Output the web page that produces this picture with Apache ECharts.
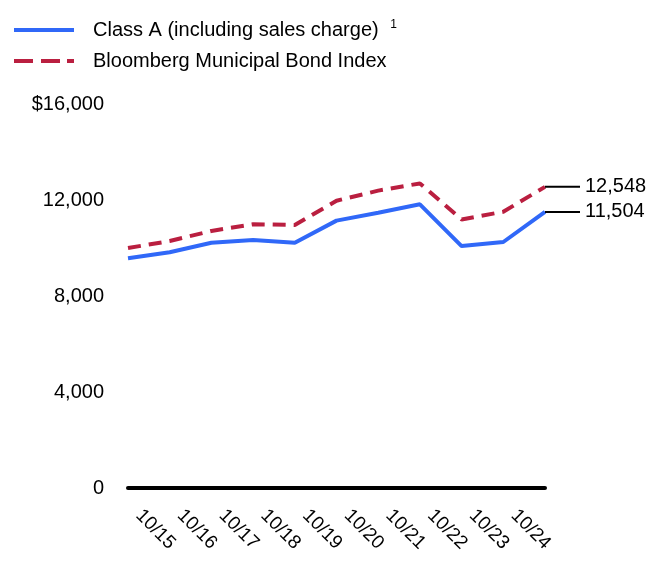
<!DOCTYPE html>
<html>
<head>
<meta charset="utf-8" />
<script src="https://cdn.jsdelivr.net/npm/echarts@6/dist/echarts.min.js"></script>
<style>
  html, body { margin: 0; padding: 0; background: #fff; }
  #main { width: 672px; height: 588px; }
</style>
</head>
<body>
<div id="main"></div>
<script>
// data
var periods = ['10/14', '10/15', '10/16', '10/17', '10/18', '10/19', '10/20', '10/21', '10/22', '10/23', '10/24'];
var tickLabels = ['10/15', '10/16', '10/17', '10/18', '10/19', '10/20', '10/21', '10/22', '10/23', '10/24', ''];
var classA = [9575, 9820, 10220, 10330, 10220, 11140, 11470, 11820, 10080, 10250, 11504];
var bloomberg = [10000, 10290, 10710, 10990, 10960, 11970, 12390, 12690, 11190, 11510, 12548];
var seriesNames = ['Class A (including sales charge)', 'Bloomberg Municipal Bond Index'];

var font = 'Liberation Sans, Arial, sans-serif';
var blue = '#3068F8';
var red = '#BA1F40';

function fmt(v) {
  return v.toLocaleString('en-US');
}

// end label: short black rule then the value
function endLabel() {
  return {
    show: true,
    distance: 0,
    formatter: function (p) { return '{l| }{t|' + fmt(p.value) + '}'; },
    rich: {
      l: { width: 35, height: 2, backgroundColor: '#000', fontSize: 2 },
      t: { fontSize: 20, color: '#000', fontFamily: font, padding: [0, 0, 0, 5] }
    }
  };
}

var chart = echarts.init(document.getElementById('main'));
chart.setOption({
  animation: false,
  textStyle: { fontFamily: font },
  legend: {
    orient: 'vertical',
    left: 14,
    top: 19,
    padding: 0,
    itemWidth: 60,
    itemHeight: 4,
    itemGap: 11,
    formatter: function (name) {
      return name === seriesNames[0] ? name + ' {s|1}' : name;
    },
    textStyle: {
      fontSize: 20, color: '#000', fontFamily: font, padding: [0, 0, 0, 14],
      rich: { s: { fontSize: 12, color: '#000', fontFamily: font, padding: [0, 0, 10, 6] } }
    },
    data: [
      { name: seriesNames[0], icon: 'path://M0,0H60V4H0Z', itemStyle: { color: blue } },
      { name: seriesNames[1], icon: 'path://M0,0H19V4H0ZM27,0H46V4H27ZM53,0H60V4H53Z', itemStyle: { color: red } }
    ]
  },
  grid: { left: 128, right: 127, top: 104, bottom: 100 },
  xAxis: {
    type: 'category',
    data: periods,
    boundaryGap: false,
    axisLine: { lineStyle: { color: '#000', width: 4 } },
    axisTick: { show: false },
    axisLabel: {
      interval: 0,
      rotate: -45,
      margin: 14,
      fontSize: 19,
      color: '#000',
      fontFamily: font,
      padding: [0, 0, 0, 15],
      formatter: function (v, i) { return tickLabels[i]; }
    },
    splitLine: { show: false }
  },
  yAxis: {
    type: 'value',
    min: 0,
    max: 16000,
    interval: 4000,
    axisLine: { show: false },
    axisTick: { show: false },
    splitLine: { show: false },
    axisLabel: {
      margin: 24,
      fontSize: 20,
      color: '#000',
      fontFamily: font,
      formatter: function (v) { return v === 16000 ? '$' + fmt(v) : fmt(v); }
    }
  },
  series: [
    {
      name: seriesNames[0],
      type: 'line',
      data: classA,
      symbol: 'none',
      lineStyle: { color: blue, width: 4 },
      itemStyle: { color: blue },
      endLabel: endLabel()
    },
    {
      name: seriesNames[1],
      type: 'line',
      data: bloomberg,
      symbol: 'none',
      lineStyle: { color: red, width: 4, type: [13, 8] },
      itemStyle: { color: red },
      endLabel: endLabel()
    }
  ]
});
</script>
</body>
</html>
